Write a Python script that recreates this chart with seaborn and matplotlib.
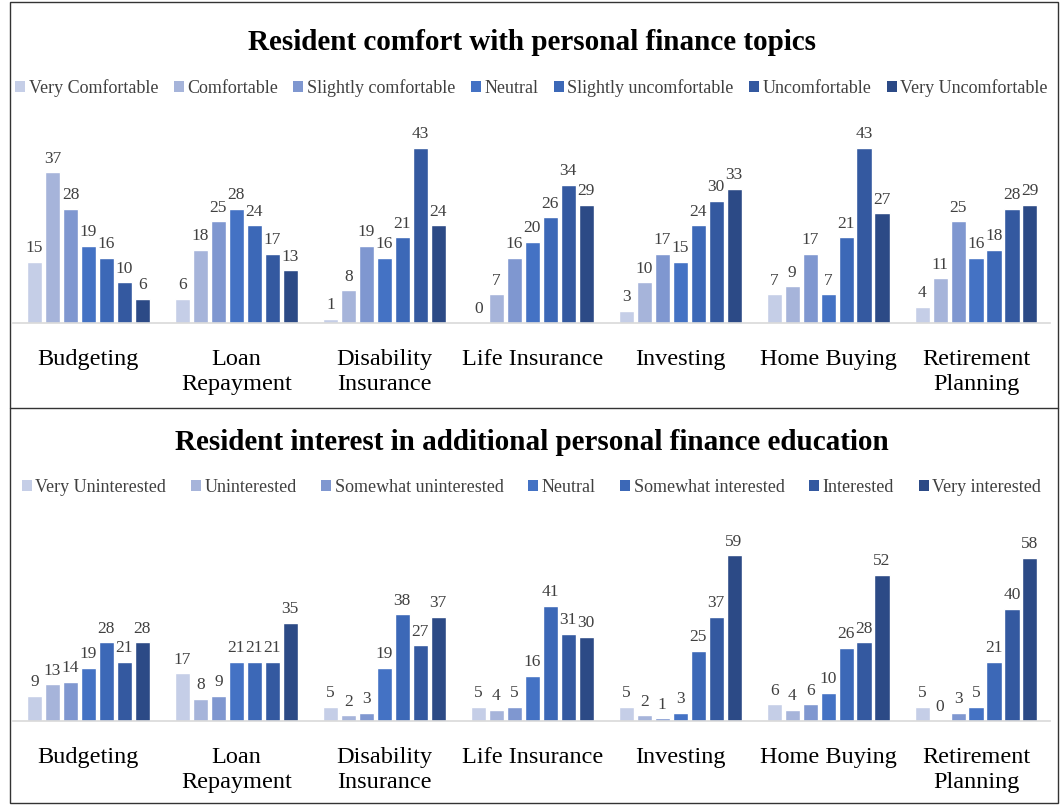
import numpy as np
import pandas as pd
import matplotlib
matplotlib.use('Agg')
import matplotlib.pyplot as plt
import seaborn as sns
from matplotlib.patches import Rectangle, Patch
from matplotlib.lines import Line2D

TOPICS = ['Budgeting', 'Loan\nRepayment', 'Disability\nInsurance', 'Life Insurance',
          'Investing', 'Home Buying', 'Retirement\nPlanning']

COMFORT_LEVELS = ['Very Comfortable', 'Comfortable', 'Slightly comfortable', 'Neutral',
                  'Slightly uncomfortable', 'Uncomfortable', 'Very Uncomfortable']
INTEREST_LEVELS = ['Very Uninterested', 'Uninterested', 'Somewhat uninterested', 'Neutral',
                   'Somewhat interested', 'Interested', 'Very interested']

# rows = topics, columns = levels
COMFORT = [
    [15, 37, 28, 19, 16, 10, 6],
    [6, 18, 25, 28, 24, 17, 13],
    [1, 8, 19, 16, 21, 43, 24],
    [0, 7, 16, 20, 26, 34, 29],
    [3, 10, 17, 15, 24, 30, 33],
    [7, 9, 17, 7, 21, 43, 27],
    [4, 11, 25, 16, 18, 28, 29],
]
INTEREST = [
    [9, 13, 14, 19, 28, 21, 28],
    [17, 8, 9, 21, 21, 21, 35],
    [5, 2, 3, 19, 38, 27, 37],
    [5, 4, 5, 16, 41, 31, 30],
    [5, 2, 1, 3, 25, 37, 59],
    [6, 4, 6, 10, 26, 28, 52],
    [5, 0, 3, 5, 21, 40, 58],
]

BLUES = ['#C5CEE7', '#A6B4DA', '#7F97D0', '#4472C4', '#3C68B7', '#3459A0', '#2C4A86']

sns.set_theme(style='white')
plt.rcParams['font.family'] = ['Liberation Serif', 'DejaVu Serif']

TEXT = '#404040'


def long_form(values, levels):
    rows = []
    for t, vals in zip(TOPICS, values):
        for lvl, v in zip(levels, vals):
            rows.append({'topic': t, 'level': lvl, 'value': v})
    return pd.DataFrame(rows)


def draw_panel(fig, rect, values, levels, ymax, title, title_y, legend_y, spacing):
    ax = fig.add_axes(rect)
    df = long_form(values, levels)
    sns.barplot(data=df, x='topic', y='value', hue='level', order=TOPICS,
                hue_order=levels, palette=BLUES, width=0.85, gap=0.16,
                saturation=1, ax=ax, legend=False)
    for cont in ax.containers:
        ax.bar_label(cont, padding=4, fontsize=12.5, color=TEXT)
    ax.set_ylim(0, ymax)
    ax.set_xlim(-0.51, 6.5)
    ax.set_xlabel('')
    ax.set_ylabel('')
    ax.set_yticks([])
    ax.tick_params(axis='x', length=0, pad=19, labelsize=17.5, labelcolor='black')
    for s in ['top', 'left', 'right']:
        ax.spines[s].set_visible(False)
    ax.spines['bottom'].set_color('#D9D9D9')
    ax.spines['bottom'].set_linewidth(1.2)
    for lbl in ax.get_xticklabels():
        lbl.set_verticalalignment('top')
        lbl.set_linespacing(1.22)

    fig.text(0.5, title_y, title, ha='center', va='center',
             fontsize=21, fontweight='bold', color='black')
    handles = [Patch(facecolor=c, edgecolor='none') for c in BLUES]
    fig.legend(handles, levels, loc='center', bbox_to_anchor=(0.5, legend_y),
               ncol=7, frameon=False, fontsize=13, handlelength=0.55,
               handleheight=0.55, handletextpad=0.2, columnspacing=spacing,
               labelcolor=TEXT)
    return ax


fig = plt.figure(figsize=(10.63, 8.05), dpi=100)

draw_panel(fig, [13 / 1063, 1 - 323 / 805, 1037 / 1063, 193 / 805],
           COMFORT, COMFORT_LEVELS, 47.4,
           'Resident comfort with personal finance topics',
           1 - 42 / 805, 1 - 88 / 805, 0.85)

draw_panel(fig, [13 / 1063, 1 - 721 / 805, 1037 / 1063, 181 / 805],
           INTEREST, INTEREST_LEVELS, 64.4,
           'Resident interest in additional personal finance education',
           1 - 442 / 805, 1 - 487 / 805, 1.36)

# panel borders
fig.patches.append(Rectangle((10 / 1063, 0.002), 1048 / 1063, 0.996,
                             transform=fig.transFigure, fill=False,
                             edgecolor='#333333', linewidth=1.0))
fig.lines.append(Line2D([10 / 1063, 1058 / 1063], [1 - 408 / 805, 1 - 408 / 805],
                        transform=fig.transFigure, color='#333333', linewidth=1.0))

fig.savefig('out.png', dpi=100, facecolor='white')
